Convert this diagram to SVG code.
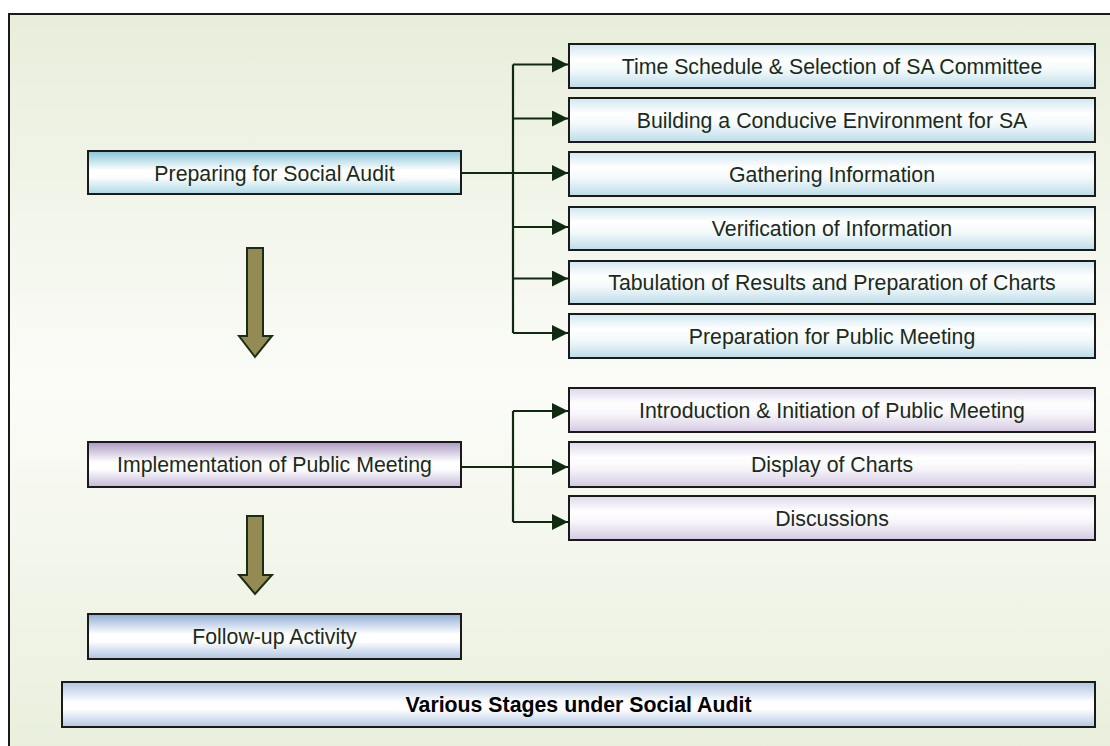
<svg xmlns="http://www.w3.org/2000/svg" width="1110" height="746" viewBox="0 0 1110 746">
  <defs>
    <linearGradient id="bg" x1="0" y1="0" x2="0" y2="1">
      <stop offset="0" stop-color="#e8eedb"/>
      <stop offset="0.5" stop-color="#fbfcf8"/>
      <stop offset="1" stop-color="#e9efdc"/>
    </linearGradient>
    <linearGradient id="gBlueStrong" x1="0" y1="0" x2="0" y2="1">
      <stop offset="0" stop-color="#86c4d8"/>
      <stop offset="0.45" stop-color="#ffffff"/>
      <stop offset="0.6" stop-color="#ffffff"/>
      <stop offset="1" stop-color="#add8e5"/>
    </linearGradient>
    <linearGradient id="gBlueLight" x1="0" y1="0" x2="0" y2="1">
      <stop offset="0" stop-color="#cfe7f0"/>
      <stop offset="0.35" stop-color="#ffffff"/>
      <stop offset="0.6" stop-color="#f2f9fb"/>
      <stop offset="1" stop-color="#bddce8"/>
    </linearGradient>
    <linearGradient id="gPurpleStrong" x1="0" y1="0" x2="0" y2="1">
      <stop offset="0" stop-color="#ab99c2"/>
      <stop offset="0.45" stop-color="#ffffff"/>
      <stop offset="0.6" stop-color="#ffffff"/>
      <stop offset="1" stop-color="#c5b8d7"/>
    </linearGradient>
    <linearGradient id="gPurpleLight" x1="0" y1="0" x2="0" y2="1">
      <stop offset="0" stop-color="#ded7ea"/>
      <stop offset="0.35" stop-color="#ffffff"/>
      <stop offset="0.6" stop-color="#f7f5fa"/>
      <stop offset="1" stop-color="#d3c9e2"/>
    </linearGradient>
    <linearGradient id="gSteel" x1="0" y1="0" x2="0" y2="1">
      <stop offset="0" stop-color="#8fadd5"/>
      <stop offset="0.45" stop-color="#ffffff"/>
      <stop offset="0.6" stop-color="#ffffff"/>
      <stop offset="1" stop-color="#afc5e2"/>
    </linearGradient>
    <linearGradient id="gSteelLight" x1="0" y1="0" x2="0" y2="1">
      <stop offset="0" stop-color="#afc4e1"/>
      <stop offset="0.45" stop-color="#ffffff"/>
      <stop offset="0.6" stop-color="#ffffff"/>
      <stop offset="1" stop-color="#b3c8e3"/>
    </linearGradient>
    <marker id="head" markerUnits="userSpaceOnUse" markerWidth="17" markerHeight="16" refX="16" refY="8" orient="auto">
      <path d="M0,0 L16,8 L0,16 z" fill="#0f2a10"/>
    </marker>
    <style>
      .box { stroke: #1a1a1a; stroke-width: 2; }
      .lbl { font-family: "Liberation Sans", Arial, sans-serif; font-size: 21.3px; fill: #1b2a1b; text-anchor: middle; }
      .title { font-family: "Liberation Sans", Arial, sans-serif; font-size: 21.3px; font-weight: bold; fill: #000; text-anchor: middle; }
      .conn { stroke: #0f2a10; stroke-width: 2.2; fill: none; }
      .down { fill: #948a54; stroke: #1a2e14; stroke-width: 2; stroke-linejoin: miter; }
    </style>
  </defs>

  <!-- page frame -->
  <rect x="9" y="14" width="1110" height="742" fill="url(#bg)" stroke="#1a1a1a" stroke-width="2"/>

  <!-- connectors -->
  <g id="connectors">
    <path class="conn" d="M461,173 H568" marker-end="url(#head)"/>
    <path class="conn" d="M513,64.5 V333"/>
    <path class="conn" d="M513,64.5 H568" marker-end="url(#head)"/>
    <path class="conn" d="M513,118.5 H568" marker-end="url(#head)"/>
    <path class="conn" d="M513,227 H568" marker-end="url(#head)"/>
    <path class="conn" d="M513,278.5 H568" marker-end="url(#head)"/>
    <path class="conn" d="M513,333 H568" marker-end="url(#head)"/>

    <path class="conn" d="M461,467 H568" marker-end="url(#head)"/>
    <path class="conn" d="M513,411 V522"/>
    <path class="conn" d="M513,411 H568" marker-end="url(#head)"/>
    <path class="conn" d="M513,522 H568" marker-end="url(#head)"/>

    <path class="down" d="M247,248 H263 V336 H272 L255,357 L239,336 H247 Z"/>
    <path class="down" d="M247,516 H263 V575 H272 L255,594 L239,575 H247 Z"/>
  </g>

  <!-- stage: preparation -->
  <g id="preparing">
    <rect class="box" x="88" y="151" width="373" height="43" fill="url(#gBlueStrong)"/>
    <text class="lbl" x="274.5" y="180.5">Preparing for Social Audit</text>
  </g>
  <g id="time-schedule">
    <rect class="box" x="569" y="44" width="526" height="44" fill="url(#gBlueLight)"/>
    <text class="lbl" x="832" y="73.5">Time Schedule &amp; Selection of SA Committee</text>
  </g>
  <g id="environment">
    <rect class="box" x="569" y="98" width="526" height="44" fill="url(#gBlueLight)"/>
    <text class="lbl" x="832" y="127.5">Building a Conducive Environment for SA</text>
  </g>
  <g id="gathering">
    <rect class="box" x="569" y="152" width="526" height="44" fill="url(#gBlueLight)"/>
    <text class="lbl" x="832" y="181.5">Gathering Information</text>
  </g>
  <g id="verification">
    <rect class="box" x="569" y="207" width="526" height="43" fill="url(#gBlueLight)"/>
    <text class="lbl" x="832" y="236">Verification of Information</text>
  </g>
  <g id="tabulation">
    <rect class="box" x="569" y="261" width="526" height="43" fill="url(#gBlueLight)"/>
    <text class="lbl" x="832" y="290">Tabulation of Results and Preparation of Charts</text>
  </g>
  <g id="prep-meeting">
    <rect class="box" x="569" y="314" width="526" height="44" fill="url(#gBlueLight)"/>
    <text class="lbl" x="832" y="343.5">Preparation for Public Meeting</text>
  </g>

  <!-- stage: public meeting -->
  <g id="implementation">
    <rect class="box" x="88" y="442" width="373" height="45" fill="url(#gPurpleStrong)"/>
    <text class="lbl" x="274.5" y="472">Implementation of Public Meeting</text>
  </g>
  <g id="introduction">
    <rect class="box" x="569" y="388" width="526" height="44" fill="url(#gPurpleLight)"/>
    <text class="lbl" x="832" y="417.5">Introduction &amp; Initiation of Public Meeting</text>
  </g>
  <g id="display-charts">
    <rect class="box" x="569" y="442" width="526" height="45" fill="url(#gPurpleLight)"/>
    <text class="lbl" x="832" y="472">Display of Charts</text>
  </g>
  <g id="discussions">
    <rect class="box" x="569" y="496" width="526" height="44" fill="url(#gPurpleLight)"/>
    <text class="lbl" x="832" y="525.5">Discussions</text>
  </g>

  <!-- stage: follow-up -->
  <g id="follow-up">
    <rect class="box" x="88" y="614" width="373" height="45" fill="url(#gSteel)"/>
    <text class="lbl" x="274.5" y="644">Follow-up Activity</text>
  </g>

  <!-- caption bar -->
  <g id="caption">
    <rect class="box" x="62" y="682" width="1033" height="45" fill="url(#gSteelLight)"/>
    <text class="title" x="578.5" y="712">Various Stages under Social Audit</text>
  </g>
</svg>
